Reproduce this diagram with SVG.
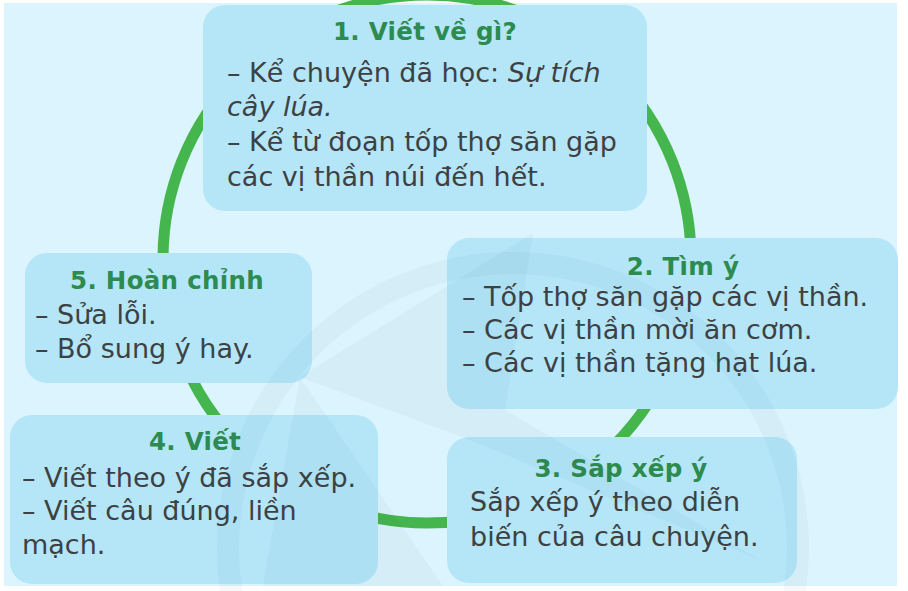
<svg xmlns="http://www.w3.org/2000/svg" width="908" height="591" viewBox="0 0 908 591">
<style>
.box{fill:#b4e6f8}
.ttl{font-family:"DejaVu Sans",sans-serif;font-weight:bold;font-size:24.5px;letter-spacing:0.3px;fill:#2e8b4f;text-anchor:middle}
.txt{font-family:"DejaVu Sans",sans-serif;font-size:27px;fill:#3d4143}
.it{font-style:italic}
.wm{fill:#1a4a5a;fill-opacity:0.04}
</style>
<rect width="908" height="591" fill="#ffffff"/>
<rect x="4" y="3" width="893" height="583" fill="#dcf4fd"/>
<g id="connectors">
<circle cx="427" cy="259" r="264" fill="none" stroke="#45b54e" stroke-width="11"/>
</g>
<g id="node1">
<rect class="box" x="203" y="5" width="444" height="206" rx="22"/>
<text class="ttl" x="425" y="40">1. Viết về gì?</text>
<text class="txt" x="227" y="82">– Kể chuyện đã học: <tspan class="it">Sự tích</tspan></text>
<text class="txt it" x="227" y="116">cây lúa.</text>
<text class="txt" x="227" y="151">– Kể từ đoạn tốp thợ săn gặp</text>
<text class="txt" x="227" y="186">các vị thần núi đến hết.</text>
</g>
<g id="node2">
<rect class="box" x="447" y="238" width="451" height="171" rx="22"/>
<text class="ttl" x="683" y="275">2. Tìm ý</text>
<text class="txt" x="462" y="306">– Tốp thợ săn gặp các vị thần.</text>
<text class="txt" x="462" y="339">– Các vị thần mời ăn cơm.</text>
<text class="txt" x="462" y="372">– Các vị thần tặng hạt lúa.</text>
</g>
<g id="node3">
<rect class="box" x="447" y="437" width="350" height="146" rx="22"/>
<text class="ttl" x="621" y="477">3. Sắp xếp ý</text>
<text class="txt" x="470" y="511">Sắp xếp ý theo diễn</text>
<text class="txt" x="470" y="546">biến của câu chuyện.</text>
</g>
<g id="node4">
<rect class="box" x="10" y="415" width="368" height="169" rx="22"/>
<text class="ttl" x="195" y="450">4. Viết</text>
<text class="txt" x="22" y="487">– Viết theo ý đã sắp xếp.</text>
<text class="txt" x="22" y="520">– Viết câu đúng, liền</text>
<text class="txt" x="22" y="554">mạch.</text>
</g>
<g id="node5">
<rect class="box" x="25" y="253" width="287" height="130" rx="22"/>
<text class="ttl" x="167" y="289">5. Hoàn chỉnh</text>
<text class="txt" x="35" y="324">– Sửa lỗi.</text>
<text class="txt" x="35" y="358">– Bổ sung ý hay.</text>
</g>
<g id="watermark">
<circle cx="513" cy="548" r="285" fill="none" stroke="#1a4a5a" stroke-opacity="0.04" stroke-width="22"/>
<polygon class="wm" points="300,377 533,233 505,410"/>
<polygon class="wm" points="300,377 505,410 760,560 470,440"/>
<polygon class="wm" points="300,377 263,586 443,586"/>
</g>
</svg>
